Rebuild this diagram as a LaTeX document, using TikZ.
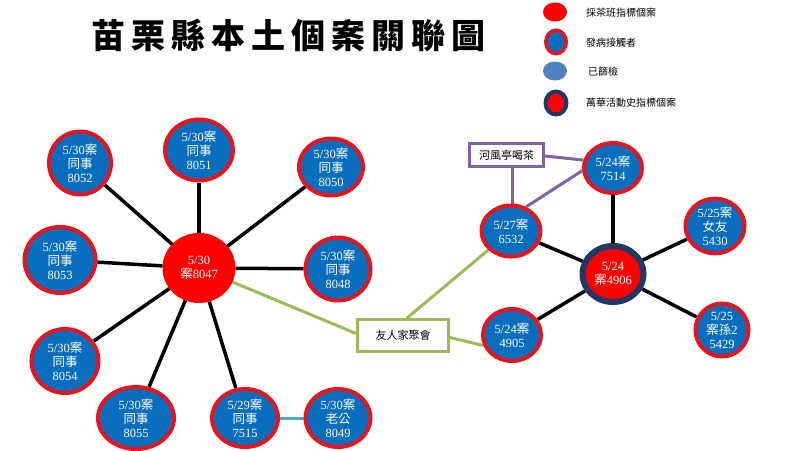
\documentclass[tikz,border=0pt]{standalone}
\usepackage{fontspec}
\setmainfont{Liberation Serif}
\newfontfamily\cjk{Noto Sans CJK TC}
\usetikzlibrary{shapes.geometric,backgrounds}
\newcommand\zh[1]{{\cjk #1}}
\definecolor{redring}{HTML}{E5141E}
\definecolor{bluefill}{HTML}{0A6EBE}
\definecolor{pure}{HTML}{FF0000}
\definecolor{navy}{HTML}{203864}
\definecolor{screen}{HTML}{4F81BD}
\definecolor{teal}{HTML}{4BACC6}
\definecolor{lgreen}{HTML}{9BBB59}
\definecolor{lpurple}{HTML}{8064A2}
\tikzset{
  sz/.style 2 args={minimum width=#1pt, minimum height=#2pt},
  contact/.style={ellipse, draw=redring, line width=4pt, fill=bluefill, text=white,
    inner sep=0pt, align=center, font=\fontsize{12.5}{14}\selectfont},
  index/.style={ellipse, draw=pure, line width=1pt, fill=pure, text=white,
    inner sep=0pt, align=center, font=\fontsize{12.5}{14}\selectfont},
  wanhua/.style={ellipse, draw=navy, line width=6pt, fill=pure, text=white,
    inner sep=0pt, align=center, font=\fontsize{12.5}{14}\selectfont},
  tie/.style={line width=3.5pt, black},
  greenline/.style={line width=3pt, lgreen},
  purpleline/.style={line width=3pt, lpurple},
  eventbox/.style={draw, line width=3pt, fill=white, inner sep=0pt, font=\cjk\fontsize{11}{13}\selectfont},
  legtext/.style={anchor=west, inner sep=0pt, font=\cjk\fontsize{10}{12}\selectfont},
}
\begin{document}
\begin{tikzpicture}[x=1pt,y=-1pt]
\useasboundingbox (0,0) rectangle (800,450);

% title
\node[inner sep=0pt, font=\cjk\bfseries\fontsize{34}{36}\selectfont] (title) at (288.5,35.5)
  {苗\hspace{6pt}栗\hspace{6pt}縣\hspace{6pt}本\hspace{6pt}土\hspace{6pt}個\hspace{6pt}案\hspace{6pt}關\hspace{6pt}聯\hspace{6pt}圖};

% legend
\node[ellipse, fill=pure, inner sep=0pt, sz={24}{19}] (l1) at (555,12) {};
\node[ellipse, fill=bluefill, draw=redring, line width=3.5pt, inner sep=0pt, sz={20.5}{23.5}] (l2) at (556,42) {};
\node[ellipse, fill=screen, inner sep=0pt, sz={24}{19}] (l3) at (555,71) {};
\node[ellipse, fill=pure, draw=navy, line width=4pt, inner sep=0pt, sz={21}{23}] (l4) at (556,103) {};
\node[legtext] (t1) at (586,13) {採茶班指標個案};
\node[legtext] (t2) at (586,43) {發病接觸者};
\node[legtext] (t3) at (588,72) {已篩檢};
\node[legtext] (t4) at (586,103) {萬華活動史指標個案};

% left cluster
\node[index, sz={72}{69}] (c8047) at (199,268) {5/30\\\zh{案}8047};
\node[contact, sz={62}{63}] (c8052) at (80,163) {5/30\zh{案}\\\zh{同事}\\8052};
\node[contact, sz={68}{61}] (c8051) at (199,150) {5/30\zh{案}\\\zh{同事}\\8051};
\node[contact, sz={64}{57}] (c8050) at (331,167) {5/30\zh{案}\\\zh{同事}\\8050};
\node[contact, sz={71}{66}] (c8053) at (60,260) {5/30\zh{案}\\\zh{同事}\\8053};
\node[contact, sz={65}{63}] (c8048) at (338,269) {5/30\zh{案}\\\zh{同事}\\8048};
\node[contact, sz={67}{64}] (c8054) at (65,361) {5/30\zh{案}\\\zh{同事}\\8054};
\node[contact, sz={76}{62}] (c8055) at (136,418) {5/30\zh{案}\\\zh{同事}\\8055};
\node[contact, sz={66}{58}] (c7515) at (245,418) {5/29\zh{案}\\\zh{同事}\\7515};
\node[contact, sz={65}{58}] (c8049) at (338,418) {5/30\zh{案}\\\zh{老公}\\8049};

% right cluster
\node[wanhua, sz={61}{56}] (c4906) at (613,274) {5/24\\\zh{案}4906};
\node[contact, sz={58}{50}] (c7514) at (613,168) {5/24\zh{案}\\7514};
\node[contact, sz={59}{51}] (c6532) at (511,231) {5/27\zh{案}\\6532};
\node[contact, sz={59}{53}] (c5430) at (715,226) {5/25\zh{案}\\\zh{女友}\\5430};
\node[contact, sz={58}{52}] (c4905) at (512,335) {5/24\zh{案}\\4905};
\node[contact, sz={53}{53}] (c5429) at (722,330) {5/25\\\zh{案孫}2\\5429};

% event boxes
\node[eventbox, draw=lpurple, sz={74}{23}] (tea) at (506.5,155) {河風亭喝茶};
\node[eventbox, draw=lgreen, sz={91}{32}] (party) at (403,335.5) {友人家聚會};

\begin{scope}[on background layer]
  \fill[white] (0,0) rectangle (800,450);
  \foreach \n in {c8052,c8051,c8050,c8053,c8048,c8054,c8055,c7515}
    \draw[tie] (c8047) -- (\n);
  \foreach \n in {c7514,c6532,c5430,c4905,c5429}
    \draw[tie] (c4906) -- (\n);
  \draw[line width=3pt, teal] (c7515) -- (c8049);
  \draw[greenline] (c8047) -- ([yshift=2pt]party.west);
  \draw[greenline] ([xshift=4pt]party.north) -- (c6532);
  \draw[greenline] ([yshift=-2pt]party.east) -- (c4905.200);
  \draw[purpleline] ([yshift=-1pt]tea.east) -- (c7514.165);
  \draw[purpleline] ([xshift=6pt]tea.south) -- ([xshift=6pt]tea.south |- c6532.north);
  \draw[purpleline] (c6532.58) -- (c7514.185);
\end{scope}
\end{tikzpicture}
\end{document}
